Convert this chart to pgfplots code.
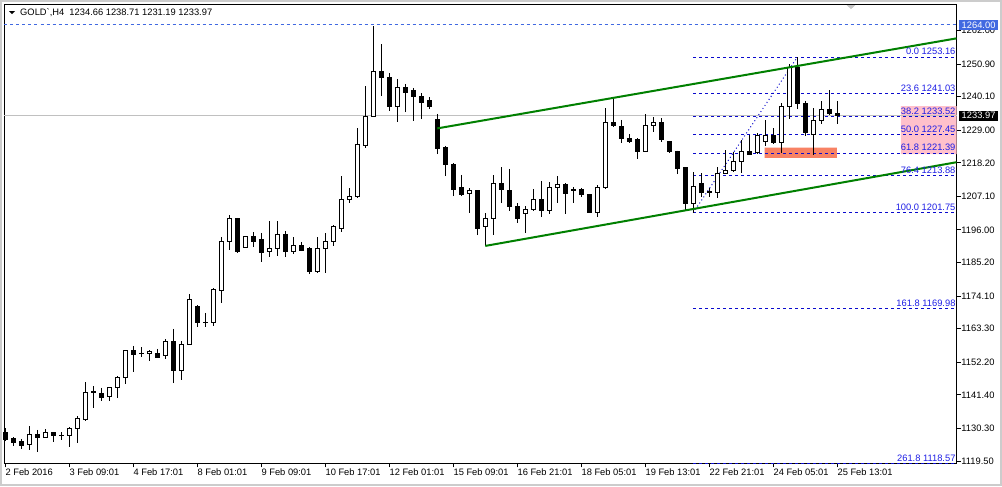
\documentclass[border=0pt]{standalone}
\usepackage{fontspec}
\setmainfont{Liberation Sans}
\usepackage{pgfplots}
\usepackage{pgfplotstable}
\pgfplotsset{compat=1.18}
\usepgfplotslibrary{statistics}

\definecolor{rblue}{RGB}{65,105,225}
\definecolor{fibblue}{RGB}{10,10,205}
\definecolor{fibtext}{RGB}{30,30,230}
\definecolor{chgreen}{RGB}{0,128,0}
\definecolor{coral}{RGB}{248,130,100}
\definecolor{lpink}{RGB}{255,192,203}
\definecolor{curgray}{RGB}{192,192,192}

\pgfplotstableread{
i O H L C
0 1128.8 1130.4 1126.1 1126.5
1 1126.8 1127.4 1124.5 1125.5
2 1125.8 1126.8 1123.5 1124.5
3 1124.8 1131.1 1123.1 1128.4
4 1128.4 1129.8 1122.5 1127.4
5 1127.4 1130.1 1127.1 1129.1
6 1128.8 1129.1 1125.8 1128.1
7 1128.1 1129.1 1126.5 1128.0
8 1127.8 1130.8 1124.1 1130.1
9 1130.1 1134.4 1125.5 1133.7
10 1133.1 1145.6 1132.9 1142.3
11 1142.3 1144.3 1137.0 1142.4
12 1141.7 1143.7 1139.4 1140.4
13 1140.7 1144.0 1139.4 1143.7
14 1143.7 1147.6 1140.4 1147.3
15 1147.3 1156.3 1145.0 1156.2
16 1156.2 1157.6 1149.0 1154.9
17 1155.2 1157.2 1153.9 1155.1
18 1155.2 1156.3 1152.6 1155.9
19 1155.2 1156.6 1153.6 1153.9
20 1154.3 1159.9 1153.3 1159.2
21 1159.2 1163.2 1145.3 1149.6
22 1149.6 1159.2 1146.3 1158.2
23 1158.2 1174.8 1158.0 1173.1
24 1170.8 1171.1 1163.9 1165.2
25 1165.5 1168.5 1163.9 1165.2
26 1165.5 1176.8 1164.2 1176.4
27 1176.1 1193.7 1171.8 1192.3
28 1192.0 1200.9 1189.3 1199.9
29 1199.9 1200.0 1188.4 1188.7
30 1190.3 1193.8 1190.0 1193.7
31 1193.7 1195.3 1190.3 1192.3
32 1192.7 1195.0 1185.4 1188.4
33 1188.7 1198.9 1187.0 1190.0
34 1190.0 1198.9 1187.4 1194.6
35 1194.6 1195.6 1187.0 1188.7
36 1189.0 1193.7 1188.0 1191.0
37 1191.0 1192.0 1189.0 1189.3
38 1190.0 1190.3 1181.4 1182.1
39 1182.1 1193.7 1181.7 1189.7
40 1189.7 1195.0 1181.7 1192.3
41 1192.3 1197.6 1190.7 1197.0
42 1196.6 1213.8 1195.3 1206.2
43 1206.2 1209.9 1204.9 1206.9
44 1206.9 1229.7 1206.6 1224.4
45 1223.8 1243.6 1223.1 1233.7
46 1233.7 1263.4 1233.5 1248.3
47 1248.3 1257.5 1240.3 1246.3
48 1246.6 1247.9 1235.4 1237.0
49 1237.0 1246.0 1231.7 1243.3
50 1243.3 1244.3 1235.0 1241.6
51 1242.0 1243.0 1232.1 1240.0
52 1240.3 1241.3 1232.7 1238.3
53 1238.7 1240.0 1236.0 1237.0
54 1232.7 1234.4 1221.1 1223.1
55 1223.4 1223.8 1213.8 1217.8
56 1217.8 1218.1 1207.2 1209.5
57 1209.9 1214.2 1207.2 1207.6
58 1207.9 1209.9 1201.6 1209.2
59 1208.9 1209.2 1194.3 1196.6
60 1197.0 1201.6 1190.7 1199.9
61 1199.9 1214.2 1194.3 1211.2
62 1211.2 1216.8 1204.9 1209.5
63 1209.2 1216.2 1202.3 1203.6
64 1203.6 1204.9 1198.3 1199.9
65 1201.3 1203.9 1195.0 1202.6
66 1202.6 1209.5 1202.4 1206.2
67 1205.9 1212.2 1200.3 1202.3
68 1202.3 1211.9 1201.3 1210.2
69 1210.2 1213.8 1204.9 1210.9
70 1210.9 1211.5 1201.3 1207.9
71 1208.9 1210.2 1204.9 1209.5
72 1209.5 1209.9 1206.9 1207.6
73 1207.6 1207.9 1201.6 1201.9
74 1201.9 1210.9 1200.3 1210.2
75 1210.2 1236.4 1209.5 1231.7
76 1231.7 1240.0 1230.1 1230.7
77 1230.1 1232.4 1224.8 1226.1
78 1226.4 1227.7 1224.8 1225.4
79 1225.8 1226.4 1219.5 1221.8
80 1222.1 1234.4 1222.0 1230.4
81 1230.4 1233.4 1228.4 1231.4
82 1231.4 1233.0 1225.1 1225.8
83 1225.4 1225.5 1221.5 1221.8
84 1222.1 1222.2 1214.5 1216.2
85 1216.5 1216.8 1202.6 1204.9
86 1204.9 1215.2 1201.75 1210.5
87 1211.2 1214.8 1206.9 1208.5
88 1208.5 1209.9 1206.9 1208.6
89 1208.5 1216.8 1206.6 1214.8
90 1214.8 1222.5 1214.7 1215.8
91 1215.5 1221.8 1215.4 1218.5
92 1218.5 1225.8 1214.8 1221.8
93 1221.8 1227.4 1221.0 1221.1
94 1221.5 1228.1 1221.1 1227.1
95 1225.1 1232.4 1223.8 1227.4
96 1227.4 1229.7 1224.7 1224.8
97 1224.8 1238.0 1221.6 1236.7
98 1236.7 1250.9 1232.7 1249.6
99 1249.6 1253.16 1236.0 1238.0
100 1238.0 1238.7 1227.1 1228.4
101 1227.7 1236.4 1220.8 1232.1
102 1232.1 1238.7 1231.1 1236.0
103 1236.0 1242.3 1234.3 1234.4
104 1234.66 1238.71 1231.19 1233.97
}\candles

\begin{document}
\begin{tikzpicture}
\path[use as bounding box, fill=white] (-3.375pt,-17.025pt) rectangle (748.125pt,347.475pt);
\draw[gray!40, line width=1.5pt] (-2.625pt,-16.275pt) rectangle (747.375pt,346.725pt);
\begin{axis}[
  at={(0pt,0pt)}, anchor=south west,
  scale only axis, width=714pt, height=344.1pt,
  xmin=-0.1, xmax=118.9, ymin=1118.74, ymax=1270.61,
  clip=false,
  axis line style={black, line width=0.75pt},
  tick style={black, line width=0.75pt},
  tick align=outside, major tick length=3pt,
  xtick pos=bottom, ytick pos=right, yticklabel pos=right,
  xtick={0,8,...,104},
  xticklabels={2 Feb 2016,3 Feb 09:01,4 Feb 17:01,8 Feb 01:01,9 Feb 09:01,10 Feb 17:01,12 Feb 01:01,15 Feb 09:01,16 Feb 21:01,18 Feb 05:01,19 Feb 13:01,22 Feb 21:01,24 Feb 05:01,25 Feb 13:01},
  ytick={1119.5,1130.3,1141.4,1152.2,1163.3,1174.1,1185.2,1196.0,1207.1,1218.2,1229.0,1240.1,1250.9,1262.0},
  yticklabels={1119.50,1130.30,1141.40,1152.20,1163.30,1174.10,1185.20,1196.00,1207.10,1218.20,1229.00,1240.10,1250.90,1262.00},
  ticklabel style={font=\fontsize{7pt}{8pt}\selectfont, inner sep=0pt},
  xticklabel style={anchor=north west, yshift=-1.1pt},
  yticklabel style={anchor=west, xshift=0.5pt},
  boxplot/draw direction=y,
  boxplot/box extend=0.55,
  boxplot/whisker extend=0,
]
% background objects
\addplot[draw=none, fill=lpink] coordinates {(111.96,1221.1) (118.9,1221.1) (118.9,1237.0) (111.96,1237.0) (111.96,1221.1)};
\addplot[draw=none, fill=coral] coordinates {(94.9,1219.8) (103.96,1219.8) (103.96,1223.2) (94.9,1223.2) (94.9,1219.8)};
\addplot[curgray, line width=0.75pt] coordinates {(-0.1,1233.97) (118.9,1233.97)};
\addplot[rblue, line width=0.75pt, dash pattern=on 2.25pt off 2.25pt] coordinates {(-0.1,1264.0) (118.9,1264.0)};
% fibonacci levels
\foreach \lv in {1253.16,1241.03,1233.52,1227.45,1221.39,1213.88,1201.75,1169.98,1118.57}{
  \edef\tmp{\noexpand\addplot[fibblue, line width=0.75pt, dash pattern=on 2.25pt off 2.25pt] coordinates {(86,\lv) (118.9,\lv)};}
  \tmp
}
\addplot[fibblue, line width=0.75pt, dotted] coordinates {(86,1201.75) (99,1253.16)};
% candles
\pgfplotsforeachungrouped \k in {0,...,104}{%
  \pgfplotstablegetelem{\k}{O}\of\candles \let\vO\pgfplotsretval
  \pgfplotstablegetelem{\k}{H}\of\candles \let\vH\pgfplotsretval
  \pgfplotstablegetelem{\k}{L}\of\candles \let\vL\pgfplotsretval
  \pgfplotstablegetelem{\k}{C}\of\candles \let\vC\pgfplotsretval
  \pgfmathsetmacro\vlo{min(\vO,\vC)}%
  \pgfmathsetmacro\vhi{max(\vO,\vC)}%
  \pgfmathtruncatemacro\bear{(\vC<\vO) ? 1 : 0}%
  \ifnum\bear=1 \def\fcol{black}\else\def\fcol{white}\fi
  \edef\cmd{\noexpand\addplot[draw=black, line width=0.75pt, fill=\fcol, boxplot/every box/.append style={fill=\fcol}, boxplot prepared={draw position=\k, lower whisker=\vL, lower quartile=\vlo, median=\vlo, upper quartile=\vhi, upper whisker=\vH}] coordinates {};}%
  \cmd
}
% channel
\addplot[chgreen, line width=1.5pt] coordinates {(54,1229.6) (118.9,1259.4)};
\addplot[chgreen, line width=1.5pt] coordinates {(60,1190.7) (118.9,1218.4)};
% fib labels
\begin{scope}[every node/.style={font=\fontsize{7pt}{8pt}\selectfont, text=fibtext, inner sep=0pt, anchor=base east}]
\node at (axis cs:118.8,1253.16) [yshift=1.8pt] {0.0 1253.16};
\node at (axis cs:118.8,1241.03) [yshift=1.8pt] {23.6 1241.03};
\node at (axis cs:118.8,1233.52) [yshift=1.8pt] {38.2 1233.52};
\node at (axis cs:118.8,1227.45) [yshift=1.8pt] {50.0 1227.45};
\node at (axis cs:118.8,1221.39) [yshift=1.8pt] {61.8 1221.39};
\node at (axis cs:118.8,1213.88) [yshift=1.8pt] {76.4 1213.88};
\node at (axis cs:118.8,1201.75) [yshift=1.8pt] {100.0 1201.75};
\node at (axis cs:118.8,1169.98) [yshift=1.8pt] {161.8 1169.98};
\node at (axis cs:118.8,1118.57) [yshift=1.8pt] {261.8 1118.57};
\end{scope}
\coordinate (b1264) at (axis cs:118.9,1264.0);
\coordinate (bcur) at (axis cs:118.9,1233.97);
\end{axis}
% right price boxes (over the tick labels)
\node[anchor=west, fill=rblue, text=white, font=\fontsize{7pt}{8pt}\selectfont, inner xsep=2.2pt, inner ysep=1.3pt] at ([xshift=1.5pt,yshift=-0.3pt]b1264) {1264.00};
\node[anchor=west, fill=black, text=white, font=\fontsize{7pt}{8pt}\selectfont, inner xsep=2.2pt, inner ysep=1.3pt] at ([xshift=1.5pt,yshift=-0.3pt]bcur) {1233.97};
% title
\fill[black] (3.4pt,339.2pt) -- (7.9pt,339.2pt) -- (5.65pt,336.8pt) -- cycle;
\node[anchor=west, inner sep=0pt, font=\fontsize{7pt}{8pt}\selectfont] at (11.6pt,337.7pt) {GOLD\textasciigrave,H4\ \ 1234.66 1238.71 1231.19 1233.97};
% chart shift marker
\fill[gray!45] (631.6pt,343.7pt) -- (638.1pt,343.7pt) -- (634.9pt,340.6pt) -- cycle;
\end{tikzpicture}
\end{document}
